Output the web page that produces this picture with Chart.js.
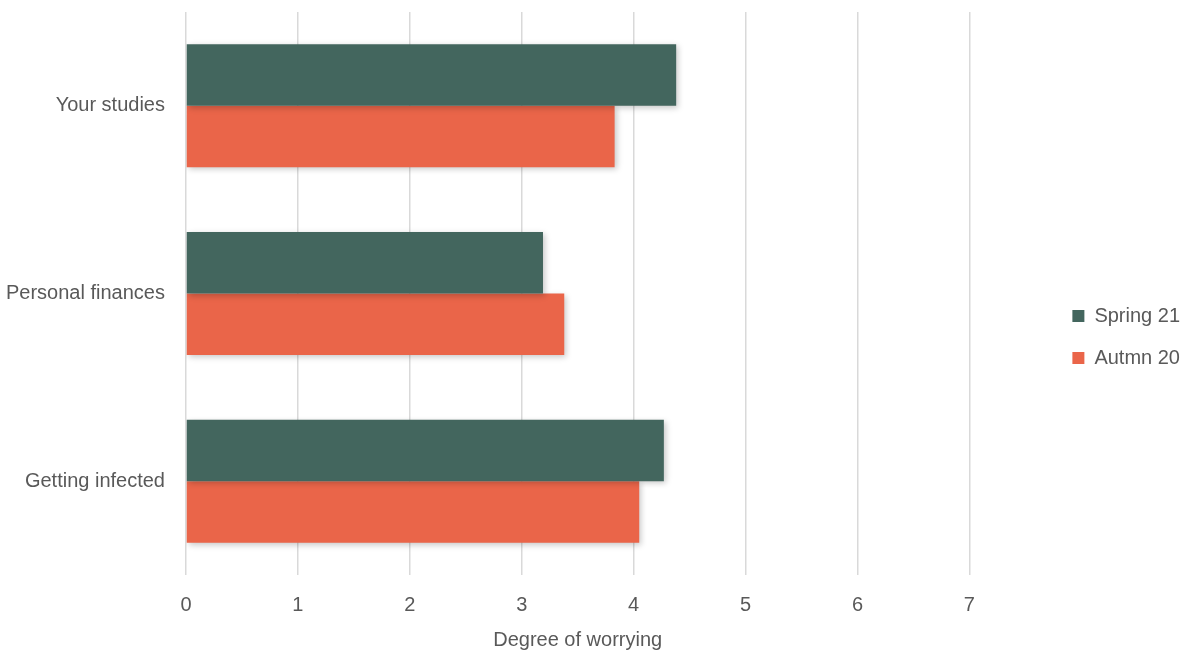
<!DOCTYPE html>
<html>
<head>
<meta charset="utf-8">
<script src="https://cdn.jsdelivr.net/npm/chart.js@4/dist/chart.umd.min.js"></script>
<style>
  html, body { margin: 0; padding: 0; background: #ffffff; }
  #wrap { width: 1182px; height: 655px; position: relative; }
</style>
</head>
<body>
<div id="wrap"><canvas id="c" width="1182" height="655"></canvas></div>
<script>
const categories = ["Your studies", "Personal finances", "Getting infected"];
const seriesNames = ["Spring 21", "Autmn 20"];
const spring21 = [4.38, 3.19, 4.27];
const autumn20 = [3.83, 3.38, 4.05];
const xTicks = [0, 1, 2, 3, 4, 5, 6, 7];
const axisTitle = "Degree of worrying";

const GREEN = "#43665e";
const ORANGE = "#ea6549";
const TEXT = "#595959";
const FONT = "'Liberation Sans', Arial, sans-serif";

const LEG_FIT_DX = 73, LEG_DRAW_DX = 81, LEG_DY = 5;

const shadowPlugin = {
  id: "barShadow",
  beforeDatasetsDraw(chart) {
    const ctx = chart.ctx;
    ctx.save();
    ctx.shadowColor = "rgba(0,0,0,0.22)";
    ctx.shadowBlur = 6;
    ctx.shadowOffsetX = 2;
    ctx.shadowOffsetY = 2;
  },
  afterDatasetsDraw(chart) {
    chart.ctx.restore();
  }
};

const legendShift = {
  id: "legendShift",
  afterInit(chart) {
    const lg = chart.legend;
    if (!lg || lg._patched) return;
    lg._patched = true;
    const fit0 = lg.fit.bind(lg);
    lg.fit = function () { fit0(); this.width += LEG_FIT_DX; };
    const draw0 = lg.draw.bind(lg);
    lg.draw = function () {
      const ctx = this.ctx;
      ctx.save();
      ctx.translate(LEG_DRAW_DX, LEG_DY);
      draw0();
      ctx.restore();
    };
  }
};

new Chart(document.getElementById("c"), {
  type: "bar",
  data: {
    labels: categories,
    datasets: [
      { label: seriesNames[0], data: spring21, backgroundColor: GREEN, borderWidth: 0 },
      { label: seriesNames[1], data: autumn20, backgroundColor: ORANGE, borderWidth: 0 }
    ]
  },
  options: {
    indexAxis: "y",
    responsive: false,
    animation: false,
    devicePixelRatio: 1,
    datasets: { bar: { categoryPercentage: 0.655, barPercentage: 1.0 } },
    layout: { padding: { top: 12, right: 0, bottom: 3, left: 6 } },
    plugins: {
      tooltip: { enabled: false },
      legend: {
        position: "right",
        align: "center",
        labels: {
          boxWidth: 12,
          boxHeight: 12,
          padding: 22,
          color: TEXT,
          font: { family: FONT, size: 20 }
        }
      }
    },
    scales: {
      x: {
        min: 0,
        max: 7,
        afterBuildTicks(scale) { scale.ticks = xTicks.map(v => ({ value: v })); },
        afterFit(scale) { scale.height -= 18; },
        grid: { color: "#d9d9d9", lineWidth: 1.5, drawTicks: false },
        border: { display: false },
        ticks: { color: TEXT, padding: 18, font: { family: FONT, size: 20 } },
        title: {
          display: true,
          text: axisTitle,
          color: TEXT,
          padding: { top: 11, bottom: 0 },
          font: { family: FONT, size: 20 }
        }
      },
      y: {
        afterFit(scale) { scale.paddingTop = 0; scale.paddingBottom = 0; scale.width -= 21; },
        grid: { display: false, drawTicks: false },
        border: { display: false },
        ticks: { color: TEXT, padding: 21, font: { family: FONT, size: 20 } }
      }
    }
  },
  plugins: [shadowPlugin, legendShift]
});
</script>
</body>
</html>
